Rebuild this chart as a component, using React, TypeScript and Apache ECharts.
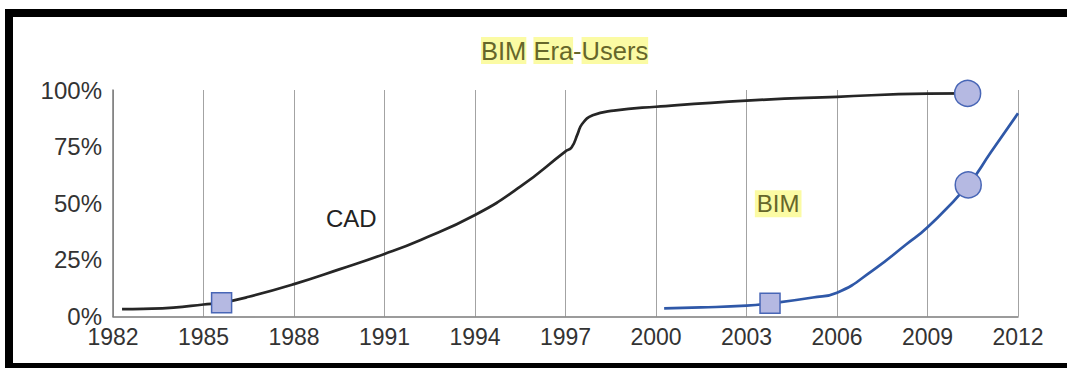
import React, { useEffect, useRef } from "react";
import * as echarts from "echarts";

// Years are plotted as offsets from START_YEAR so that the 3-year ticks start at 0.
const START_YEAR = 1982;
const END_YEAR = 2012;
const YEAR_STEP = 3;

// CAD adoption curve (year, share of users in %)
const cadYears = [
  1982.3, 1983, 1984, 1985, 1985.6, 1986.5, 1988, 1989.5, 1991, 1992.2, 1994,
  1995.5, 1997, 1997.2, 1997.4, 1997.55, 1997.9, 1998.6, 2000, 2003, 2006,
  2009, 2010.33,
];
const cadShare = [
  3.3, 3.4, 3.9, 5.3, 6.1, 8.7, 14.3, 20.8, 27.6, 33.8, 44.8, 57.3, 72.9, 74.6,
  80.5, 85.0, 88.8, 90.9, 92.6, 95.3, 97.0, 98.4, 98.5,
];

// BIM adoption curve (year, share of users in %)
const bimYears = [
  2000.27, 2001.5, 2003, 2003.78, 2005.2, 2006, 2007.2, 2008.3, 2009, 2010.35,
  2011.1, 2012,
];
const bimShare = [3.6, 4.0, 4.8, 5.8, 8.4, 10.5, 20.5, 31.9, 39.4, 58.1, 72.5, 89.7];

// Milestone markers on each curve
const cadMarkerYears = [1985.6, 2010.33];
const cadMarkerShare = [6.1, 98.5];
const bimMarkerYears = [2003.78, 2010.35];
const bimMarkerShare = [5.8, 58.1];
const markerShapes = ["rect", "circle"];
const markerSizes = [20, 26];

// Curve names and where they are written on the chart
const curveLabels = ["CAD", "BIM"];
const curveLabelYears = [1989.9, 2004.05];
const curveLabelShare = [43.2, 49.8];

const FONT = "'Liberation Sans', Arial, Helvetica, sans-serif";
const HIGHLIGHT = "#fbfba4";
const HIGHLIGHT_TEXT = "#66662a";

const toPoint = (year: number, value: number) => [year - START_YEAR, value];

export default function App() {
  const ref = useRef<HTMLDivElement>(null);

  useEffect(() => {
    if (!ref.current) return;
    const chart = echarts.init(ref.current, undefined, { renderer: "svg" });

    const markerData = [
      ...cadMarkerYears.map((y, i) => ({
        value: toPoint(y, cadMarkerShare[i]),
        symbol: markerShapes[i],
        symbolSize: markerSizes[i],
      })),
      ...bimMarkerYears.map((y, i) => ({
        value: toPoint(y, bimMarkerShare[i]),
        symbol: markerShapes[i],
        symbolSize: markerSizes[i],
      })),
    ];

    const labelData = curveLabels.map((name, i) => ({
      name,
      value: toPoint(curveLabelYears[i], curveLabelShare[i]),
      label:
        name === "BIM"
          ? {
              color: HIGHLIGHT_TEXT,
              backgroundColor: HIGHLIGHT,
              padding: [2, 2, 1, 2],
            }
          : { color: "#222" },
    }));

    chart.setOption({
      animation: false,
      backgroundColor: "#fff",
      title: {
        text: "{h|BIM} {h|Era}-{h|Users}",
        left: 481,
        top: 37,
        padding: 0,
        textStyle: {
          fontFamily: FONT,
          fontSize: 25.5,
          fontWeight: "normal",
          color: HIGHLIGHT_TEXT,
          rich: {
            h: {
              fontFamily: FONT,
              fontSize: 25.5,
              color: HIGHLIGHT_TEXT,
              backgroundColor: HIGHLIGHT,
              padding: [1, 0, 0, 0],
            },
          },
        },
      },
      grid: { left: 113, top: 90, width: 905, height: 226.5 },
      xAxis: {
        type: "value",
        min: 0,
        max: END_YEAR - START_YEAR,
        interval: YEAR_STEP,
        axisLine: { show: true, lineStyle: { color: "#7a7a7a", width: 1.5 } },
        axisTick: { show: false },
        splitLine: { show: true, lineStyle: { color: "#a3a3a3", width: 1 } },
        axisLabel: {
          margin: 9,
          fontFamily: FONT,
          fontSize: 23,
          color: "#333",
          formatter: (v: number) => String(v + START_YEAR),
        },
      },
      yAxis: {
        type: "value",
        min: 0,
        max: 100,
        interval: 25,
        axisLine: { show: true, lineStyle: { color: "#7a7a7a", width: 1.5 } },
        axisTick: { show: false },
        splitLine: { show: false },
        axisLabel: {
          margin: 11,
          fontFamily: FONT,
          fontSize: 24,
          color: "#333",
          formatter: "{value}%",
        },
      },
      series: [
        {
          name: "CAD",
          type: "line",
          data: cadYears.map((y, i) => toPoint(y, cadShare[i])),
          smooth: 0.5,
          symbol: "none",
          lineStyle: { color: "#262626", width: 2.7 },
          z: 3,
        },
        {
          name: "BIM",
          type: "line",
          data: bimYears.map((y, i) => toPoint(y, bimShare[i])),
          smooth: 0.5,
          symbol: "none",
          lineStyle: { color: "#2f58a8", width: 2.7 },
          z: 3,
        },
        {
          name: "markers",
          type: "scatter",
          data: markerData,
          itemStyle: { color: "#b5b9e2", borderColor: "#4866b6", borderWidth: 1.5, opacity: 1 },
          silent: true,
          z: 5,
        },
        {
          name: "labels",
          type: "scatter",
          data: labelData,
          symbolSize: 0,
          silent: true,
          itemStyle: { opacity: 1 },
          label: {
            show: true,
            position: "inside",
            formatter: "{b}",
            fontFamily: FONT,
            fontSize: 24,
            textBorderWidth: 0,
            textShadowBlur: 0,
          },
          z: 6,
        },
      ],
      graphic: [
        {
          type: "rect",
          shape: { x: 9, y: 13, width: 1100, height: 354 },
          style: { fill: "none", stroke: "#000", lineWidth: 8 },
          silent: true,
          z: 100,
        },
      ],
    });

    return () => chart.dispose();
  }, []);

  return (
    <div
      ref={ref}
      style={{ position: "absolute", left: 0, top: 0, width: 1067, height: 368, background: "#fff" }}
    />
  );
}
